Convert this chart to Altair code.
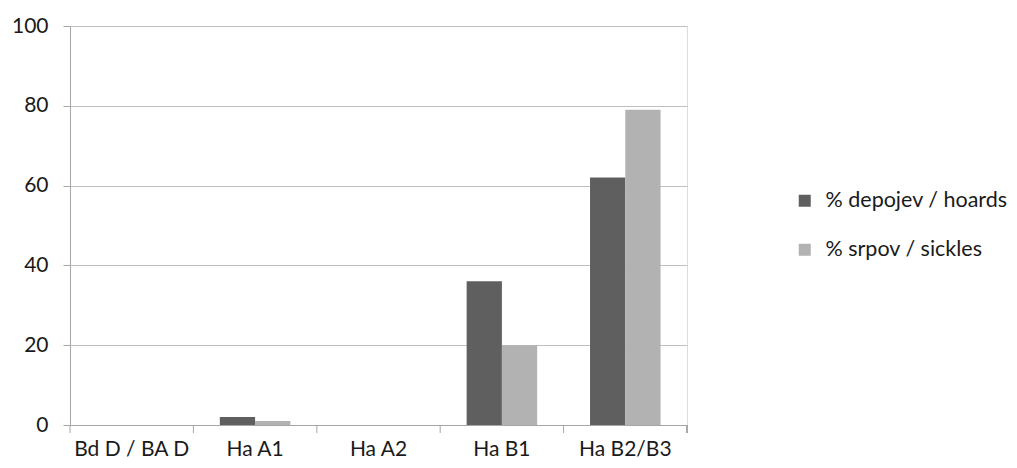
import altair as alt
import pandas as pd

categories = ["Bd D / BA D", "Ha A1", "Ha A2", "Ha B1", "Ha B2/B3"]
series_names = ["% depojev / hoards", "% srpov / sickles"]
hoards = [0, 2, 0, 36, 62]
sickles = [0, 1, 0, 20, 79]
colors = ["#5f5f5f", "#b2b2b2"]

rows = []
for c, h, s in zip(categories, hoards, sickles):
    rows.append({"period": c, "series": series_names[0], "value": h})
    rows.append({"period": c, "series": series_names[1], "value": s})
df = pd.DataFrame(rows)
cat_df = pd.DataFrame({"period": categories})

FONT = "Lato"
W, H = 617, 399
AX = "#a6a6a6"

xscale = alt.Scale(domain=categories, paddingInner=0, paddingOuter=0)
x_axis = alt.Axis(labelAngle=0, ticks=False, domain=True, domainColor=AX,
                  grid=False, labelFontSize=21, labelColor="#1a1a1a",
                  labelFont=FONT, labelPadding=13, labelOverlap=False)

bars = alt.Chart(df).mark_bar().encode(
    x=alt.X("period:N", sort=categories, scale=xscale, title=None, axis=x_axis),
    xOffset=alt.XOffset("series:N", sort=series_names,
                        scale=alt.Scale(paddingOuter=0.75, paddingInner=0)),
    y=alt.Y("value:Q", scale=alt.Scale(domain=[0, 100]), title=None,
            axis=alt.Axis(values=[0, 20, 40, 60, 80, 100], grid=True, gridColor="#bfbfbf",
                          domainColor=AX, tickColor=AX, tickSize=7,
                          labelFontSize=21, labelColor="#1a1a1a", labelFont=FONT,
                          labelPadding=15)),
    color=alt.Color("series:N", sort=series_names,
                    scale=alt.Scale(domain=series_names, range=colors),
                    legend=alt.Legend(title=None, orient="none", legendX=724, legendY=164,
                                      symbolType="square", symbolSize=144,
                                      symbolStrokeWidth=0, labelFontSize=21.5,
                                      labelFont=FONT, labelColor="#1a1a1a",
                                      labelOffset=10, rowPadding=26, labelLimit=300)),
)

ticks = alt.Chart(cat_df).mark_rule(color=AX).encode(
    x=alt.X("period:N", sort=categories, scale=xscale, bandPosition=0, title=None, axis=x_axis),
    y=alt.value(H), y2=alt.value(H + 8),
)

end_tick = alt.Chart(cat_df).mark_rule(color=AX).encode(
    x=alt.value(W), y=alt.value(H), y2=alt.value(H + 8)
)

chart = alt.layer(bars, ticks, end_tick).properties(
    width=W, height=H,
    autosize=alt.AutoSizeParams(type="none"),
    padding={"left": 62, "top": 18, "right": 322, "bottom": 35},
).configure_view(stroke=None).configure(background="white")

chart.save("out.html", embed_options={"renderer": "svg", "actions": False})
